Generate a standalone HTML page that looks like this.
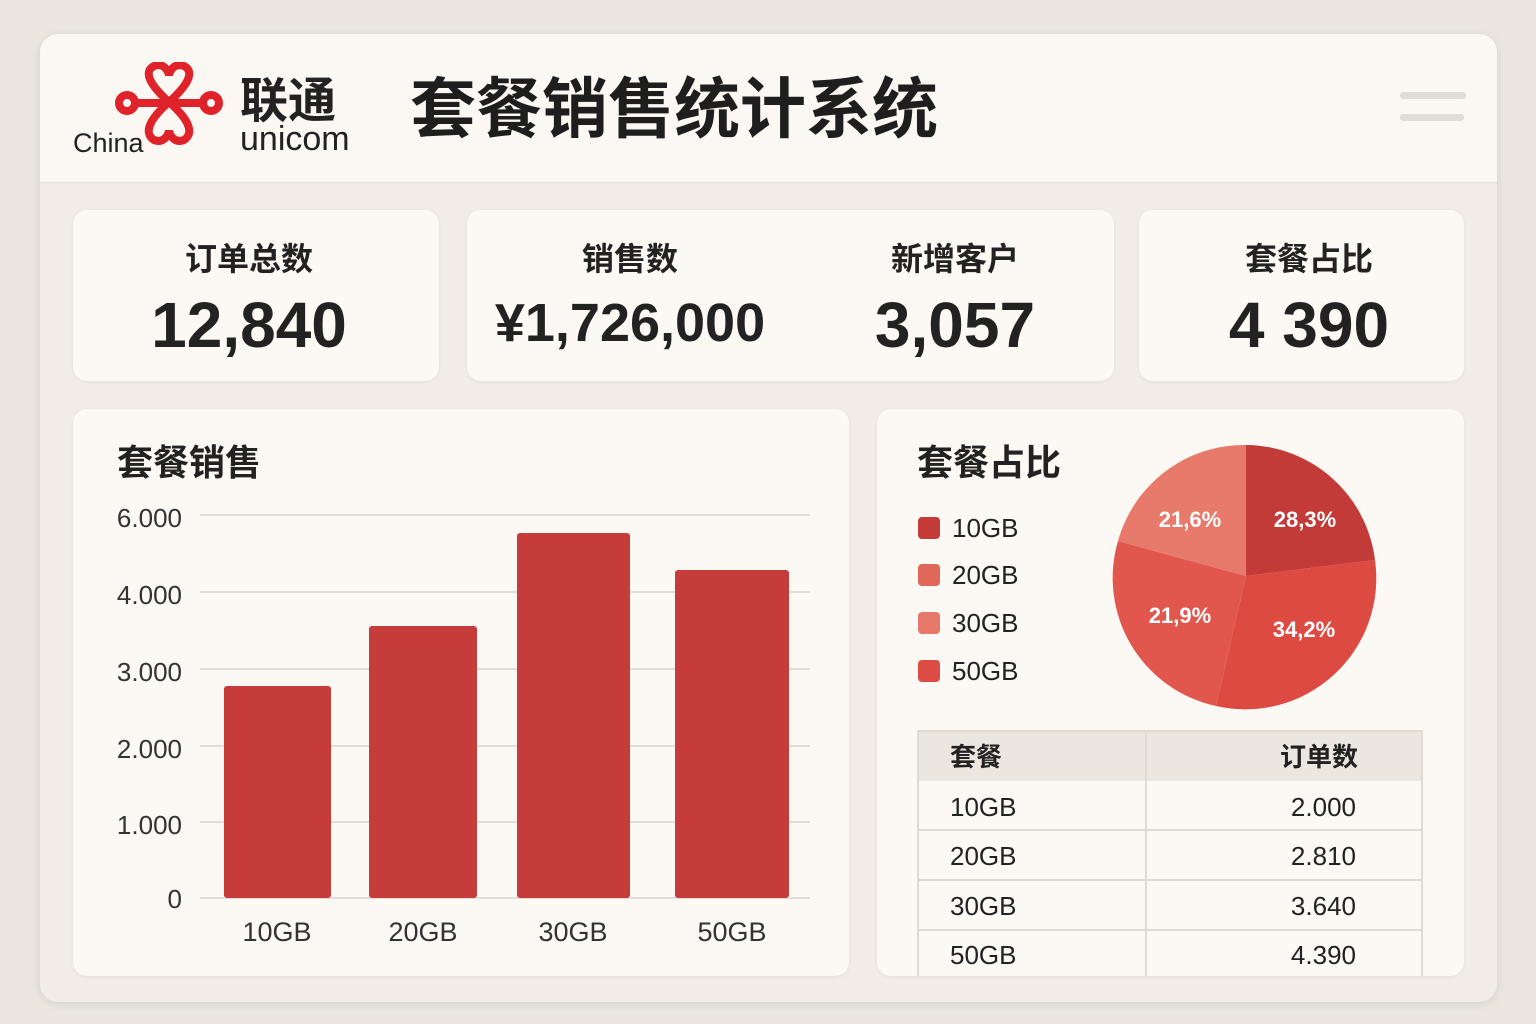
<!DOCTYPE html>
<html><head><meta charset="utf-8"><style>
body{margin:0;width:1536px;height:1024px;background:#ebe6e0;font-family:"Liberation Sans","Noto Sans CJK SC",sans-serif;position:relative;overflow:hidden}
.a{position:absolute}
.card{position:absolute;background:#fcf8f3;border-radius:14px;box-shadow:0 1px 4px rgba(0,0,0,.06)}
.t{position:absolute;color:#222;white-space:nowrap}
</style></head><body>
<div class="a" style="left:40px;top:34px;width:1457px;height:968px;background:#f1ece7;border-radius:18px;box-shadow:0 2px 10px rgba(0,0,0,.1);overflow:hidden">
 <div class="a" style="left:0;top:0;width:1457px;height:148px;background:#fbf7f2;border-bottom:1px solid #e4ddd6"></div>
</div>
<svg class="a" style="left:112px;top:62px" width="115" height="85" viewBox="0 0 115 85">
 <g fill="none" stroke="#e0232a" stroke-width="8">
  <path d="M57 40 C40 25 30 10 42 4 C52 0 57 10 57 14 C57 10 62 0 72 4 C84 10 74 25 57 40 Z"/>
  <path d="M57 40 C40 55 30 70 42 78 C52 82 57 72 57 68 C57 72 62 82 72 78 C84 70 74 55 57 40 Z"/>
  <circle cx="15" cy="41" r="8"/><circle cx="99" cy="41" r="8"/>
  <path d="M23 41 H91"/>
 </g>
</svg>
<div class="t" style="left:73px;top:128px;font-size:27px">China</div>
<div class="t" style="left:240px;top:78px;font-size:48px;font-weight:bold;line-height:1">联通</div>
<div class="t" style="left:240px;top:122px;font-size:34px;line-height:1">unicom</div>
<div class="t" style="left:410px;top:76px;font-size:66px;font-weight:bold;line-height:1;color:#1e1e1e">套餐销售统计系统</div>
<div class="a" style="left:1400px;top:92px;width:66px;height:7px;background:#e2dcd6;border-radius:3px"></div>
<div class="a" style="left:1400px;top:114px;width:64px;height:7px;background:#e2dcd6;border-radius:3px"></div>

<div class="card" style="left:73px;top:210px;width:366px;height:171px"></div>
<div class="card" style="left:467px;top:210px;width:647px;height:171px"></div>
<div class="card" style="left:1139px;top:210px;width:325px;height:171px"></div>
<div class="t" style="left:66px;width:366px;text-align:center;top:234px;font-size:32px;font-weight:bold">订单总数</div>
<div class="t" style="left:66px;width:366px;text-align:center;top:288px;font-size:64px;font-weight:bold">12,840</div>
<div class="t" style="left:500px;width:260px;text-align:center;top:234px;font-size:32px;font-weight:bold">销售数</div>
<div class="t" style="left:490px;width:280px;text-align:center;top:292px;font-size:54px;font-weight:bold">¥1,726,000</div>
<div class="t" style="left:850px;width:210px;text-align:center;top:234px;font-size:32px;font-weight:bold">新增客户</div>
<div class="t" style="left:850px;width:210px;text-align:center;top:288px;font-size:64px;font-weight:bold">3,057</div>
<div class="t" style="left:1139px;width:340px;text-align:center;top:234px;font-size:32px;font-weight:bold">套餐占比</div>
<div class="t" style="left:1139px;width:340px;text-align:center;top:288px;font-size:64px;font-weight:bold">4 390</div>

<div class="card" style="left:73px;top:409px;width:776px;height:567px"></div>
<div class="card" style="left:877px;top:409px;width:587px;height:567px"></div>
<div class="t" style="left:117px;top:434px;font-size:36px;font-weight:bold">套餐销售</div>
<svg class="a" style="left:0;top:0" width="1536" height="1024">
 <g stroke="#e3ddd7" stroke-width="2">
  <line x1="200" y1="515" x2="810" y2="515"/><line x1="200" y1="592" x2="810" y2="592"/>
  <line x1="200" y1="669" x2="810" y2="669"/><line x1="200" y1="746" x2="810" y2="746"/>
  <line x1="200" y1="822" x2="810" y2="822"/><line x1="200" y1="898" x2="810" y2="898"/>
 </g>
 <g fill="#c63c3b">
  <rect x="224" y="686" width="107" height="212" rx="3"/>
  <rect x="369" y="626" width="108" height="272" rx="3"/>
  <rect x="517" y="533" width="113" height="365" rx="3"/>
  <rect x="675" y="570" width="114" height="328" rx="3"/>
 </g>
 <g font-family="Liberation Sans" font-size="26" fill="#333" text-anchor="end">
  <text x="182" y="527">6.000</text><text x="182" y="604">4.000</text><text x="182" y="681">3.000</text>
  <text x="182" y="758">2.000</text><text x="182" y="834">1.000</text><text x="182" y="908">0</text>
 </g>
 <g font-family="Liberation Sans" font-size="27" fill="#333" text-anchor="middle">
  <text x="277" y="941">10GB</text><text x="423" y="941">20GB</text><text x="573" y="941">30GB</text><text x="732" y="941">50GB</text>
 </g>
 <path d="M1246 576 L1246 445 A131 131 0 0 1 1375 560 Z" fill="#c33b38"/>
 <path d="M1246 576 L1375 560 A131 131 0 0 1 1216 706 Z" fill="#dc4a42"/>
 <path d="M1246 576 L1216 706 A131 131 0 0 1 1118 541 Z" fill="#e2574d"/>
 <path d="M1246 576 L1118 541 A131 131 0 0 1 1246 445 Z" fill="#e77a6b"/>
 <g font-family="Liberation Sans" font-size="22" font-weight="bold" fill="#fff" text-anchor="middle">
  <text x="1190" y="527">21,6%</text><text x="1305" y="527">28,3%</text>
  <text x="1180" y="623">21,9%</text><text x="1304" y="637">34,2%</text>
 </g>
 <rect x="918" y="517" width="22" height="22" rx="4" fill="#c33a37"/>
 <rect x="918" y="564" width="22" height="22" rx="4" fill="#e0675a"/>
 <rect x="918" y="612" width="22" height="22" rx="4" fill="#e8786a"/>
 <rect x="918" y="660" width="22" height="22" rx="4" fill="#dd4c44"/>
 <g font-family="Liberation Sans" font-size="26" fill="#222">
  <text x="952" y="537">10GB</text><text x="952" y="584">20GB</text><text x="952" y="632">30GB</text><text x="952" y="680">50GB</text>
 </g>
 <rect x="918" y="731" width="504" height="50" fill="#ebe6e0"/>
 <g stroke="#e0d9d2" stroke-width="2" fill="none">
  <path d="M918 976 V731 H1422 V976"/>
  <line x1="1146" y1="731" x2="1146" y2="976"/>
  <line x1="918" y1="830" x2="1422" y2="830"/><line x1="918" y1="880" x2="1422" y2="880"/><line x1="918" y1="930" x2="1422" y2="930"/>
 </g>
 <g font-family="Liberation Sans,Noto Sans CJK SC" font-size="26" fill="#222">
  <text x="950" y="766" font-weight="bold">套餐</text>
  <text x="1358" y="766" font-weight="bold" text-anchor="end">订单数</text>
  <text x="950" y="816">10GB</text><text x="1356" y="816" text-anchor="end">2.000</text>
  <text x="950" y="865">20GB</text><text x="1356" y="865" text-anchor="end">2.810</text>
  <text x="950" y="915">30GB</text><text x="1356" y="915" text-anchor="end">3.640</text>
  <text x="950" y="964">50GB</text><text x="1356" y="964" text-anchor="end">4.390</text>
 </g>
</svg>
<div class="t" style="left:917px;top:434px;font-size:36px;font-weight:bold">套餐占比</div>
</body></html>
